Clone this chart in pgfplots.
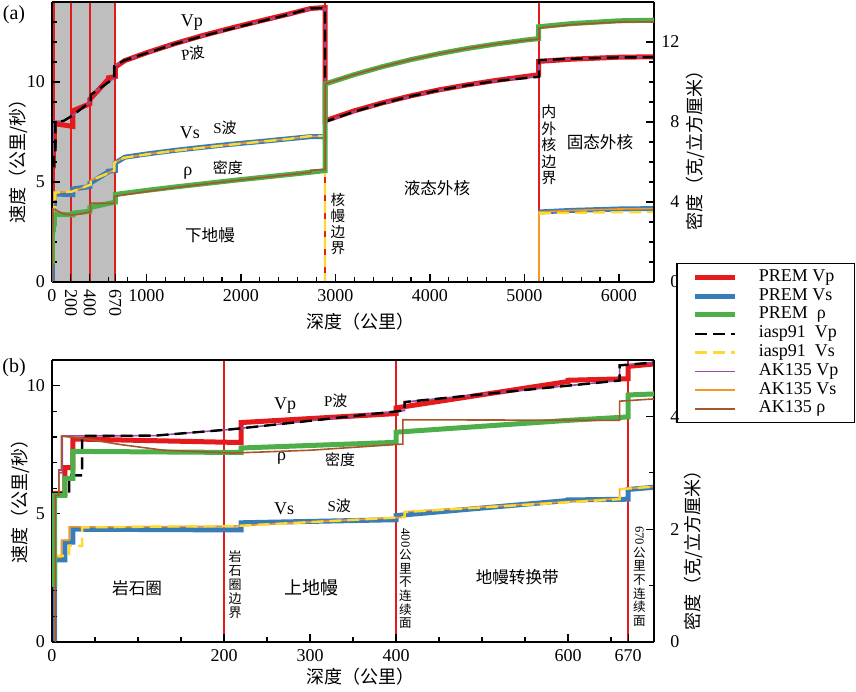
\documentclass[border=0pt]{standalone}
\usepackage{pgfplots}
\pgfplotsset{compat=1.18}
\usepackage{pgfplotstable}
\usepackage{fontspec}
\setmainfont{Liberation Serif}
\newfontfamily\cjk{Noto Sans CJK SC}
\newcommand\fs[1]{\fontsize{#1}{#1}\selectfont}

\definecolor{premred}{RGB}{228,26,28}
\definecolor{premblue}{RGB}{55,126,184}
\definecolor{premgreen}{RGB}{77,175,74}
\definecolor{iaspyellow}{RGB}{255,217,47}
\definecolor{akpurple}{RGB}{152,78,163}
\definecolor{akorange}{RGB}{245,150,40}
\definecolor{akbrown}{RGB}{166,86,40}
\definecolor{shadegray}{RGB}{190,190,190}

% ---------------- data ----------------
\pgfplotstableread{
d v
0 5.8
15 5.8
15 6.8
24.4 6.8
24.4 7.92
80 7.88
220 7.78
220 8.56
400 8.91
400 9.13
600 10.16
600 10.21
670 10.27
670 10.75
771 11.07
1000 11.46
1300 11.92
1600 12.33
1900 12.70
2200 13.05
2500 13.39
2741 13.68
2891 13.72
2891 8.06
3200 8.56
3500 8.96
3800 9.31
4100 9.61
4400 9.86
4700 10.08
5000 10.27
5150 10.36
5150 11.03
5500 11.14
6000 11.24
6371 11.26
}\premvp

\pgfplotstableread{
d v
0 0
3 0
3 3.2
15 3.2
15 3.9
24.4 3.9
24.4 4.40
220 4.37
220 4.65
400 4.77
400 4.93
600 5.52
600 5.54
670 5.57
670 5.95
771 6.24
1000 6.40
1300 6.58
1600 6.74
1900 6.89
2200 7.02
2500 7.16
2741 7.27
2891 7.26
nan nan
5150 3.50
5500 3.58
6000 3.65
6371 3.67
}\premvs

\pgfplotstableread{
d v
0 1.02
3 1.02
3 2.6
15 2.6
15 2.9
24.4 2.9
24.4 3.38
220 3.36
220 3.44
400 3.54
400 3.72
600 3.93
670 3.99
670 4.38
771 4.44
1000 4.58
1300 4.75
1600 4.91
1900 5.07
2200 5.22
2500 5.37
2741 5.49
2891 5.57
2891 9.90
3200 10.37
3500 10.77
3800 11.12
4100 11.42
4400 11.68
4700 11.90
5000 12.09
5150 12.17
5150 12.76
5500 12.92
6000 13.06
6371 13.09
}\premrho

\pgfplotstableread{
d v
0 5.8
20 5.8
20 6.5
35 6.5
35 8.04
120 8.05
210 8.30
410 9.03
410 9.36
660 10.20
660 10.79
760 11.07
1000 11.44
1300 11.90
1600 12.30
1900 12.67
2200 13.02
2500 13.37
2740 13.68
2889 13.69
2889 8.01
3200 8.52
3500 8.93
3800 9.29
4100 9.59
4400 9.84
4700 10.05
5000 10.19
5154 10.26
5154 11.09
5500 11.16
6000 11.23
6371 11.24
}\iaspvp

\pgfplotstableread{
d v
0 3.36
20 3.36
20 3.75
35 3.75
35 4.47
120 4.50
210 4.52
410 4.87
410 5.07
660 5.57
660 5.96
760 6.21
1000 6.38
1300 6.56
1600 6.72
1900 6.87
2200 7.01
2500 7.15
2740 7.30
2889 7.30
2889 0
nan nan
5154 3.43
5500 3.46
6000 3.49
6371 3.50
}\iaspvs

\pgfplotstableread{
d v
0 5.8
8 5.8
8 6.6
12 6.6
12 8.04
77.5 8.045
120 8.05
165 8.175
210 8.30
410 9.03
410 9.36
660 10.20
660 10.79
760 11.07
1000 11.44
1300 11.90
1600 12.30
1900 12.67
2200 13.02
2500 13.36
2740 13.65
2891.5 13.66
2891.5 8.00
3200 8.51
3500 8.92
3800 9.28
4100 9.58
4400 9.84
4700 10.06
5000 10.22
5153.5 10.29
5153.5 11.04
5500 11.15
6000 11.24
6371 11.26
}\akvp

\pgfplotstableread{
d v
4 0
4 3.3
11 3.3
11 3.97
20 3.97
20 4.49
77.5 4.49
120 4.50
165 4.51
210 4.52
410 4.87
410 5.08
660 5.60
660 5.96
760 6.21
1000 6.39
1300 6.57
1600 6.73
1900 6.88
2200 7.02
2500 7.16
2740 7.28
2891.5 7.28
nan nan
5153.5 0
5153.5 3.50
5500 3.58
6000 3.65
6371 3.67
}\akvs

\pgfplotstableread{
d v
4 0
4 2.6
8 2.6
8 3.05
11 3.05
11 3.65
40 3.60
80 3.50
130 3.40
210 3.35
300 3.40
408 3.51
408 3.94
660 3.93
660 4.27
700 4.31
760 4.36
1000 4.52
1300 4.72
1600 4.89
1900 5.05
2200 5.21
2500 5.36
2740 5.49
2740 5.59
2891.5 5.62
2891.5 9.91
3200 10.37
3500 10.77
3800 11.12
4100 11.42
4400 11.68
4700 11.90
5000 12.08
5153.5 12.14
5153.5 12.70
5500 12.87
6000 13.00
6371 13.01
}\akrho

\pgfplotsset{
  premvpS/.style={color=premred, line width=2.5pt},
  premvsS/.style={color=premblue, line width=2.5pt},
  premrhoS/.style={color=premgreen, line width=2.5pt},
  iaspvpS/.style={color=black, line width=1.2pt, dash pattern=on 6pt off 3pt},
  iaspvsS/.style={color=iaspyellow, line width=1.2pt, dash pattern=on 6pt off 3pt},
  akvpS/.style={color=akpurple, line width=0.8pt},
  akvsS/.style={color=akorange, line width=0.8pt},
  akrhoS/.style={color=akbrown, line width=0.8pt},
  blineS/.style={color=premred, line width=0.9pt},
  basestyle/.style={
    scale only axis, width=301pt, clip=true,
    axis line style={line width=0.8pt},
    every tick/.style={black, line width=0.6pt},
    major tick length=4pt, minor tick length=2.5pt,
    tick align=inside,
    ticklabel style={font=\fs{9}},
    /pgf/number format/assume math mode=true,
    /pgf/number format/1000 sep={},
    scaled ticks=false,
    unbounded coords=jump,
    enlargelimits=false,
  },
  rightlabels/.style={
    yticklabel style={anchor=west, inner sep=0pt, text width=11pt, align=right, xshift=1.5pt},
  },
}

\begin{document}
\begin{tikzpicture}
\useasboundingbox (0,0) rectangle (428pt,345.5pt);

% ================= panel (a): velocities =================
\begin{axis}[basestyle, at={(26pt,204.5pt)}, anchor=south west, height=140pt,
  xmin=0, xmax=6371, ymin=0, ymax=14,
  axis y line*=left, xtick pos=left, axis on top,
  xtick={0,1000,2000,3000,4000,5000,6000},
  minor x tick num=4,
  extra x ticks={200,400,670},
  extra x tick labels={200,400,670},
  extra x tick style={tick label style={rotate=-90, anchor=west}},
  ytick={0,5,10}, minor ytick={1,2,3,4,6,7,8,9,11,12,13},
]
\addplot[fill=shadegray, draw=none] coordinates {(0,0) (670,0) (670,14) (0,14)} \closedcycle;
\addplot[blineS] coordinates {(20,0) (20,14)};
\addplot[blineS] coordinates {(200,0) (200,14)};
\addplot[blineS] coordinates {(400,0) (400,14)};
\addplot[blineS] coordinates {(670,0) (670,14)};
\addplot[blineS] coordinates {(2891,0) (2891,14)};
\addplot[blineS] coordinates {(5150,0) (5150,14)};
\addplot[premvpS] table[x=d,y=v] {\premvp};
\addplot[premvsS] table[x=d,y=v] {\premvs};
\addplot[akvpS] table[x=d,y=v] {\akvp};
\addplot[akvsS] table[x=d,y=v] {\akvs};
\addplot[iaspvpS] table[x=d,y=v] {\iaspvp};
\addplot[iaspvsS] table[x=d,y=v] {\iaspvs};
% annotations
\node[font=\fs{9}] at (axis cs:1481,12.95) {Vp};
\node[font=\fs{7.5}, rotate=8] at (axis cs:1492,11.45) {P{\cjk 波}};
\node[font=\fs{9}] at (axis cs:1460,7.45) {Vs};
\node[font=\fs{7.5}] at (axis cs:1831,7.7) {S{\cjk 波}};
\node[font=\fs{9}] at (axis cs:1439,5.45) {ρ};
\node[font=\cjk\fs{7.5}] at (axis cs:1862,5.7) {密度};
\node[font=\cjk\fs{8.3}] at (axis cs:1672,2.35) {下地幔};
\node[font=\cjk\fontsize{7.3}{8}\selectfont, align=center] at (axis cs:3026,2.9) {核\\幔\\边\\界};
\node[font=\cjk\fs{8.3}] at (axis cs:4074,4.7) {液态外核};
\node[font=\cjk\fontsize{7.5}{8.3}\selectfont, align=center] at (axis cs:5259,6.85) {内\\外\\核\\边\\界};
\node[font=\cjk\fs{8.3}] at (axis cs:5799,7.0) {固态外核};
\end{axis}

% ================= panel (a): density =================
\begin{axis}[basestyle, rightlabels, at={(26pt,204.5pt)}, anchor=south west, height=140pt,
  xmin=0, xmax=6371, ymin=0, ymax=14,
  axis x line=none, axis y line*=right,
  ytick={0,4,8,12}, minor ytick={1,2,3,5,6,7,9,10,11,13},
  legend style={at={(1.3339,0.0679)}, anchor=north east, draw=black, line width=0.6pt,
    font=\fs{9}, inner xsep=8pt, inner ysep=2.5pt,
    nodes={inner xsep=0pt, inner ysep=0.4pt, text height=6pt, text depth=2pt},
    row sep=0.6pt,
    /tikz/every odd column/.append style={column sep=10.5pt}},
  legend cell align=left,
  legend image code/.code={\draw[#1] (0pt,0pt) -- (20pt,0pt);},
]
\addlegendimage{premvpS}\addlegendentry{PREM Vp}
\addlegendimage{premvsS}\addlegendentry{PREM Vs}
\addlegendimage{premrhoS}\addlegendentry{PREM\ \ ρ}
\addlegendimage{iaspvpS}\addlegendentry{iasp91\ \ Vp}
\addlegendimage{iaspvsS}\addlegendentry{iasp91\ \ Vs}
\addlegendimage{akvpS}\addlegendentry{AK135 Vp}
\addlegendimage{akvsS}\addlegendentry{AK135 Vs}
\addlegendimage{akrhoS}\addlegendentry{AK135 ρ}
\addplot[premrhoS, forget plot] table[x=d,y=v] {\premrho};
\addplot[akrhoS, forget plot] table[x=d,y=v] {\akrho};
\end{axis}

% ================= panel (b): velocities =================
\begin{axis}[basestyle, at={(26pt,24.5pt)}, anchor=south west, height=141pt,
  xmin=0, xmax=700, ymin=0, ymax=11,
  axis y line*=left, xtick pos=left, axis on top,
  xtick={0,200,300,400,600,670},
  minor xtick={50,100,150,250,350,450,500,550,650},
  ytick={0,5,10}, minor ytick={1,2,3,4,6,7,8,9,11},
]
\addplot[blineS] coordinates {(200,0) (200,11)};
\addplot[blineS] coordinates {(400,0) (400,11)};
\addplot[blineS] coordinates {(670,0) (670,11)};
\addplot[premvpS] table[x=d,y=v] {\premvp};
\addplot[premvsS] table[x=d,y=v] {\premvs};
\addplot[akvpS] table[x=d,y=v] {\akvp};
\addplot[akvsS] table[x=d,y=v] {\akvs};
\addplot[iaspvpS] table[x=d,y=v] {\iaspvp};
\addplot[iaspvsS] table[x=d,y=v] {\iaspvs};
\node[font=\fs{9}] at (axis cs:271,9.22) {Vp};
\node[font=\fs{7.5}] at (axis cs:330,9.42) {P{\cjk 波}};
\node[font=\fs{9}] at (axis cs:267,7.16) {ρ};
\node[font=\cjk\fs{7.5}] at (axis cs:335,7.12) {密度};
\node[font=\fs{9}] at (axis cs:270,5.21) {Vs};
\node[font=\fs{7.5}] at (axis cs:334,5.33) {S{\cjk 波}};
\node[font=\cjk\fs{8.3}] at (axis cs:99,2.10) {岩石圈};
\node[font=\cjk\fs{9}] at (axis cs:302,2.10) {上地幔};
\node[font=\cjk\fs{8.3}] at (axis cs:541,2.53) {地幔转换带};
\node[font=\cjk\fontsize{6.5}{7}\selectfont, align=center] at (axis cs:213,2.22) {岩\\石\\圈\\边\\界};
\node[font=\cjk\fontsize{6.3}{6.8}\selectfont, align=center] at (axis cs:411,2.47) {\rotatebox{-90}{\rmfamily 400}\\公\\里\\不\\连\\续\\面};
\node[font=\cjk\fontsize{6.3}{6.8}\selectfont, align=center] at (axis cs:683,2.57) {\rotatebox{-90}{\rmfamily 670}\\公\\里\\不\\连\\续\\面};
\end{axis}

% ================= panel (b): density =================
\begin{axis}[basestyle, rightlabels, at={(26pt,24.5pt)}, anchor=south west, height=141pt,
  xmin=0, xmax=700, ymin=0, ymax=5,
  axis x line=none, axis y line*=right,
  ytick={0,2,4}, minor ytick={1,3,5},
]
\addplot[premrhoS] table[x=d,y=v] {\premrho};
\addplot[akrhoS] table[x=d,y=v] {\akrho};
\end{axis}

% ================= labels =================
\node[font=\fs{10}] at (7pt,338pt) {(a)};
\node[font=\fs{10}] at (7pt,161.5pt) {(b)};
\node[font=\cjk\fs{9}] at (180pt,184.5pt) {深度（公里）};
\node[font=\cjk\fs{9}] at (180pt,7pt) {深度（公里）};
\node[font=\cjk\fs{9}, rotate=90] at (9pt,267pt) {速度（公里/秒）};
\node[font=\cjk\fs{9}, rotate=90] at (10pt,97pt) {速度（公里/秒）};
\node[font=\cjk\fs{9}, rotate=90] at (347.5pt,272.5pt) {密度（克/立方厘米）};
\node[font=\cjk\fs{9}, rotate=90] at (346.5pt,72.5pt) {密度（克/立方厘米）};
\end{tikzpicture}
\end{document}
